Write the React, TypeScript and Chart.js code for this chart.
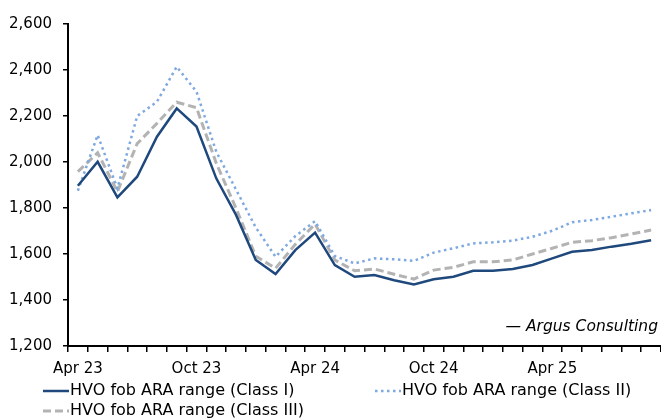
import React, { useEffect, useRef } from "react";
import { Chart, registerables } from "chart.js";

Chart.register(...registerables);

const months = [
  "Apr 23", "May 23", "Jun 23", "Jul 23", "Aug 23", "Sep 23",
  "Oct 23", "Nov 23", "Dec 23", "Jan 24", "Feb 24", "Mar 24",
  "Apr 24", "May 24", "Jun 24", "Jul 24", "Aug 24", "Sep 24",
  "Oct 24", "Nov 24", "Dec 24", "Jan 25", "Feb 25", "Mar 25",
  "Apr 25", "May 25", "Jun 25", "Jul 25", "Aug 25", "Sep 25",
];

const tickLabels = ["Apr 23", "Oct 23", "Apr 24", "Oct 24", "Apr 25"];

const classI = [
  1897, 2001, 1846, 1936, 2110, 2233, 2154, 1929, 1770, 1574,
  1513, 1617, 1693, 1552, 1501, 1509, 1486, 1468, 1490, 1501,
  1527, 1527, 1535, 1552, 1581, 1610, 1617, 1632, 1645, 1660,
];

const classII = [
  1875, 2117, 1885, 2200, 2262, 2414, 2306, 2045, 1880, 1715,
  1588, 1678, 1743, 1591, 1559, 1581, 1577, 1570, 1606, 1625,
  1646, 1651, 1658, 1675, 1701, 1738, 1748, 1762, 1777, 1791,
];

const classIII = [
  1958, 2040, 1871, 2080, 2168, 2260, 2236, 1995, 1799, 1590,
  1538, 1642, 1730, 1574, 1527, 1535, 1512, 1491, 1530, 1542,
  1566, 1566, 1574, 1600, 1625, 1651, 1658, 1671, 1687, 1704,
];

const seriesNames = [
  "HVO fob ARA range (Class I)",
  "HVO fob ARA range (Class II)",
  "HVO fob ARA range (Class III)",
];

const yMin = 1200;
const yMax = 2600;
const yStep = 200;

const FONT = "'DejaVu Sans', sans-serif";

const customLegend = {
  id: "customLegend",
  afterDraw(chart: any) {
    const ctx = chart.ctx as CanvasRenderingContext2D;
    const area = chart.chartArea;
    const colX = [43, 375];
    const rowY = [area.bottom + 45, area.bottom + 65];
    ctx.save();
    chart.data.datasets.forEach((ds: any, i: number) => {
      const x = colX[i % 2];
      const y = rowY[Math.floor(i / 2)];
      ctx.beginPath();
      ctx.setLineDash(ds.borderDash || []);
      ctx.lineWidth = ds.borderWidth;
      ctx.strokeStyle = ds.borderColor;
      ctx.lineCap = "butt";
      ctx.moveTo(x, y);
      ctx.lineTo(x + 26, y);
      ctx.stroke();
      ctx.setLineDash([]);
      ctx.fillStyle = "#000";
      ctx.font = `16px ${FONT}`;
      ctx.textAlign = "left";
      ctx.textBaseline = "middle";
      ctx.fillText(ds.label, x + 27, y);
    });
    // source note
    ctx.font = `italic 15.5px ${FONT}`;
    ctx.textAlign = "right";
    ctx.textBaseline = "middle";
    ctx.fillStyle = "#000";
    ctx.fillText("\u2014 Argus Consulting", area.right - 3, area.bottom - 19);
    ctx.restore();
  },
};

export default function App() {
  const canvasRef = useRef<HTMLCanvasElement | null>(null);

  useEffect(() => {
    if (!canvasRef.current) return;
    const chart = new Chart(canvasRef.current, {
      type: "line",
      data: {
        labels: months,
        datasets: [
          {
            label: seriesNames[0],
            data: classI,
            borderColor: "#1F497D",
            borderWidth: 2.5,
            pointRadius: 0,
            tension: 0,
            fill: false,
          },
          {
            label: seriesNames[1],
            data: classII,
            borderColor: "#7DA9E0",
            borderWidth: 2.5,
            borderDash: [2.5, 3.5],
            pointRadius: 0,
            tension: 0,
            fill: false,
          },
          {
            label: seriesNames[2],
            data: classIII,
            borderColor: "#B3B3B3",
            borderWidth: 3,
            borderDash: [8, 4],
            pointRadius: 0,
            tension: 0,
            fill: false,
          },
        ],
      },
      options: {
        responsive: false,
        animation: false,
        layout: { padding: { top: 24, bottom: 43, left: 0, right: 0 } },
        plugins: {
          legend: { display: false },
          tooltip: { enabled: false },
          title: { display: false },
        },
        scales: {
          x: {
            type: "category",
            offset: true,
            border: { display: true, color: "#000", width: 2 },
            grid: {
              display: true,
              offset: true,
              drawOnChartArea: false,
              drawTicks: true,
              tickLength: 6,
              color: "#000",
              lineWidth: 1.5,
            },
            ticks: {
              autoSkip: false,
              maxRotation: 0,
              minRotation: 0,
              padding: 8,
              color: "#000",
              font: { family: FONT, size: 15 },
              callback: (_v: any, i: number) =>
                tickLabels.includes(months[i]) ? months[i] : "",
            },
            afterFit: (scale: any) => {
              scale.height = 30;
            },
          },
          y: {
            min: yMin,
            max: yMax,
            border: { display: true, color: "#000", width: 2 },
            grid: {
              display: true,
              drawOnChartArea: false,
              drawTicks: true,
              tickLength: 5,
              color: "#000",
              lineWidth: 1.5,
            },
            ticks: {
              stepSize: yStep,
              padding: 11,
              color: "#000",
              font: { family: FONT, size: 15 },
              callback: (v: any) => Number(v).toLocaleString("en-US"),
            },
            afterFit: (scale: any) => {
              scale.width = 68;
            },
          },
        },
      },
      plugins: [customLegend],
    });
    return () => chart.destroy();
  }, []);

  return (
    <div
      style={{
        position: "fixed",
        left: 0,
        top: 0,
        width: 661,
        height: 419,
        background: "#fff",
      }}
    >
      <canvas
        ref={canvasRef}
        width={661}
        height={419}
        style={{ display: "block", width: 661, height: 419 }}
      />
    </div>
  );
}
